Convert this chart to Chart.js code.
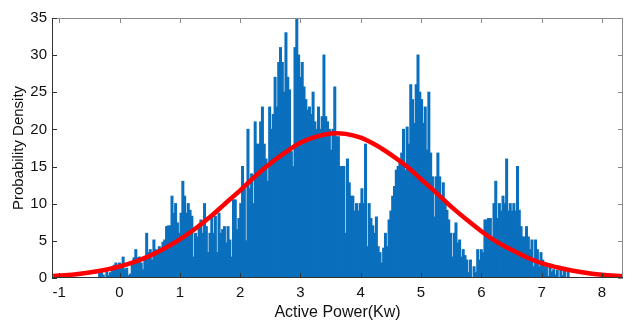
<!DOCTYPE html>
<html>
<head>
<meta charset="utf-8">
<title>Active power histogram</title>
<script src="https://cdn.jsdelivr.net/npm/chart.js@4/dist/chart.umd.min.js"></script>
<style>
  html, body { margin: 0; padding: 0; background: #ffffff; }
  #wrap { width: 625px; height: 325px; }
</style>
</head>
<body>
<div id="wrap"><canvas id="powerChart" width="625" height="325"></canvas></div>
<script>
// Histogram of active power with a fitted normal curve on top.

// histogram bins (kW): first bin centre and width
const binStart = -0.36;
const binWidth = 0.03;

// bar heights, one per bin, left to right
const histValues = [
  0, 0.7, 0.7, 0.4, 0, 0.8, 0.3, 0.7, 1.0, 1.7,
  2.0, 1.5, 2.0, 1.5, 2.8, 1.1, 1.3, 0.3, 0.5, 2.0,
  2.7, 3.8, 2.7, 2.8, 2.0, 1.1, 2.4, 6.0, 3.4, 3.8,
  2.4, 5.1, 3.8, 3.4, 4.2, 3.4, 4.8, 5.1, 6.9, 7.0,
  7.0, 11.0, 8.7, 10.0, 7.4, 6.0, 8.7, 13.0, 11.0, 8.7,
  10.0, 9.1, 8.3, 2.8, 6.0, 5.5, 6.9, 7.8, 6.0, 10.0,
  6.9, 3.4, 6.0, 8.3, 6.0, 8.3, 3.4, 8.7, 6.0, 6.5,
  6.9, 4.7, 6.9, 5.1, 2.8, 10.5, 10.5, 6.5, 8.0, 10.0,
  15, 12, 5, 20, 12, 14, 10, 21, 18, 18,
  21, 23, 18, 16, 13, 23, 20, 22, 27, 23,
  29, 31, 29, 25, 33, 27, 25.3, 17, 15, 31,
  35, 30, 27, 29, 25.7, 24, 22.6, 23, 22, 25,
  21, 20, 23, 20, 21.7, 30, 21.7, 21, 20, 17.2,
  20, 25.7, 19, 19, 15, 15, 15, 6, 16, 12.8,
  11, 11, 9, 10, 9, 10, 12, 10, 18, 4.2,
  10, 8, 7, 6, 8.2, 4.2, 3.4, 2, 4, 6,
  4.2, 7.8, 9, 11, 12.3, 14.5, 15, 15.5, 16.8, 20,
  14.5, 20.3, 18, 26, 24, 20.8, 26, 30, 25, 24,
  20.8, 23, 17.2, 25, 16.8, 13.6, 8.2, 13.6, 16.8, 13.6,
  10.5, 12.8, 10.5, 9.1, 7.8, 6, 2.8, 6, 7.4, 4.7,
  5.1, 2.8, 3.8, 3, 2.4, 0.7, 2.4, 0, 1.5, 0.7,
  3.8, 2.4, 3.8, 3.4, 7.8, 7.8, 8, 8, 5, 10,
  13, 8, 10, 9, 11, 10, 16, 9, 10, 9,
  10, 9, 15, 9.1, 6.9, 5.5, 5.5, 6.9, 5.5, 3.8,
  5.1, 1.5, 5.1, 3.8, 1.5, 3.4, 2.4, 1.5, 2, 0.2,
  1.5, 0.8, 1.1, 0.4, 1, 0, 1, 0.3, 1, 0,
  0.8
];

// red fitted curve, sampled by eye
const curveX = [-1.1, -0.75, -0.5, -0.25, 0, 0.25, 0.5, 0.75, 1, 1.25, 1.5, 1.75, 2, 2.25, 2.5, 2.75,
  3, 3.25, 3.5, 3.6, 3.75, 4, 4.25, 4.5, 4.75, 5, 5.25, 5.5, 5.75, 6, 6.25, 6.5, 6.75, 7, 7.25,
  7.5, 7.75, 8, 8.35];
const curveY = [0.26, 0.48, 0.73, 1.08, 1.55, 2.18, 2.98, 4.0, 5.2, 6.6, 8.2, 10.0, 11.8, 13.7, 15.4, 16.9,
  18.2, 19.0, 19.45, 19.5, 19.4, 18.9, 17.9, 16.6, 15.1, 13.3, 11.5, 9.6, 7.9, 6.3, 4.9, 3.8, 2.8, 2.0, 1.45,
  1.0, 0.67, 0.44, 0.24];

// axis ticks
const xTickValues = [-1, 0, 1, 2, 3, 4, 5, 6, 7, 8];
const yTickValues = [0, 5, 10, 15, 20, 25, 30, 35];

const histData = histValues.map(function(v, i) {
    return { x: +(binStart + i * binWidth).toFixed(3), y: v };
});
const curveData = curveX.map(function(v, i) {
    return { x: v, y: curveY[i] };
});

// MATLAB style box with inward ticks on all four sides
const boxPlugin = {
    id: 'boxFrame',
    afterDraw: function(chart) {
        const g = chart.ctx;
        const a = chart.chartArea;
        const xs = chart.scales.x;
        const ys = chart.scales.y;
        const w = a.right - a.left;
        const h = a.bottom - a.top;
        g.save();
        // top and right edges are lighter
        g.fillStyle = '#8a8a8a';
        g.fillRect(a.left, a.top, w, 1);
        g.fillRect(a.right - 1, a.top, 1, h);
        xTickValues.forEach(function(v) {
            g.fillRect(Math.round(xs.getPixelForValue(v)), a.top, 1, 5);
        });
        yTickValues.forEach(function(v) {
            g.fillRect(a.right - 5, Math.round(ys.getPixelForValue(v)), 5, 1);
        });
        // left and bottom axes
        g.fillStyle = '#333333';
        g.fillRect(a.left, a.top, 1, h);
        g.fillRect(a.left, a.bottom - 1, w, 1);
        xTickValues.forEach(function(v) {
            g.fillRect(Math.round(xs.getPixelForValue(v)), a.bottom - 5, 1, 5);
        });
        yTickValues.forEach(function(v) {
            g.fillRect(a.left, Math.round(ys.getPixelForValue(v)), 5, 1);
        });
        g.restore();
    }
};
Chart.register(boxPlugin);

Chart.defaults.font.family = '"Liberation Sans", Arial, sans-serif';
Chart.defaults.color = '#111111';

new Chart(document.getElementById('powerChart'), {
    type: 'bar',
    data: {
        datasets: [
            {
                type: 'line',
                label: 'Normal fit',
                data: curveData,
                borderColor: '#ff0000',
                borderWidth: 4.5,
                pointRadius: 0,
                cubicInterpolationMode: 'monotone',
                fill: false,
                order: 0
            },
            {
                type: 'bar',
                label: 'Histogram',
                data: histData,
                backgroundColor: '#0a6fbd',
                borderWidth: 0,
                barPercentage: 1,
                categoryPercentage: 1,
                inflateAmount: 0.6,
                grouped: false,
                order: 1
            }
        ]
    },
    options: {
        responsive: false,
        animation: false,
        layout: { padding: { top: 18, right: 2, left: 0, bottom: 0 } },
        plugins: {
            legend: { display: false },
            tooltip: { enabled: false }
        },
        scales: {
            x: {
                type: 'linear',
                offset: false,
                min: -1.12,
                max: 8.35,
                grid: { display: false, offset: false, drawTicks: false },
                border: { display: false },
                afterFit: function(scale) { scale.height = 47; },
                afterBuildTicks: function(scale) {
                    scale.ticks = xTickValues.map(function(v) { return { value: v }; });
                },
                ticks: { font: { size: 15 }, padding: 6, maxRotation: 0 },
                title: {
                    display: true,
                    text: 'Active Power(Kw)',
                    font: { size: 16 },
                    padding: { top: 0, bottom: 3 }
                }
            },
            y: {
                min: 0,
                max: 35,
                grid: { display: false, drawTicks: false },
                border: { display: false },
                afterFit: function(scale) { scale.width = 52; },
                afterBuildTicks: function(scale) {
                    scale.ticks = yTickValues.map(function(v) { return { value: v }; });
                },
                ticks: { font: { size: 15 }, padding: 5 },
                title: {
                    display: true,
                    text: 'Probability Density',
                    font: { size: 15 },
                    padding: { top: 10, bottom: 0 }
                }
            }
        }
    }
});
</script>
</body>
</html>
